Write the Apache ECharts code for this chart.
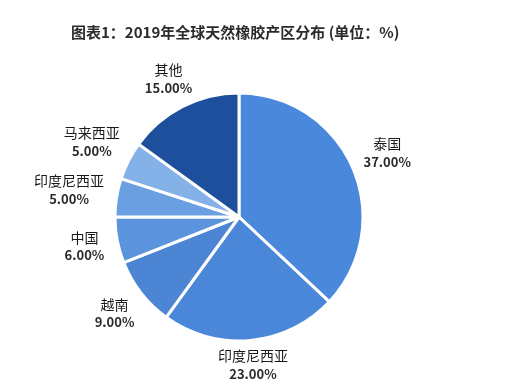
<!DOCTYPE html>
<html><head><meta charset="utf-8">
<script src="https://cdn.jsdelivr.net/npm/echarts@6/dist/echarts.min.js"></script>
<style>html,body{margin:0;padding:0;background:#fff}#c{width:524px;height:388px}</style>
</head><body><div id="c"></div>
<script>
var titleText = '图表1：2019年全球天然橡胶产区分布 (单位：%)';
var categories = ['泰国', '印度尼西亚', '越南', '中国', '印度尼西亚', '马来西亚', '其他'];
var values = [37, 23, 9, 6, 5, 5, 15];
var colors = ['#4a88dc', '#4b87d8', '#4c85d4', '#5b94dc', '#6aa0e2', '#84b1e8', '#1d4f9c'];

var CX = 239, CY = 217, R = 124, LABEL_R = 136;
var total = values.reduce(function (a, b) { return a + b; }, 0);
var mids = [];
(function () { var acc = 0; values.forEach(function (v) { mids.push((acc + v / 2) / total * 2 * Math.PI); acc += v; }); })();

var chart = echarts.init(document.getElementById('c'));
chart.setOption({
  backgroundColor: '#fff',
  animation: false,
  title: {
    text: titleText, left: 66, top: 20,
    textStyle: { fontFamily: '"Noto Sans CJK SC", sans-serif', fontSize: 15, fontWeight: 'bold', color: '#2b2b2b' }
  },
  series: [{
    type: 'pie',
    center: [CX, CY],
    radius: R,
    startAngle: 90,
    clockwise: true,
    data: categories.map(function (c, i) { return { name: c, value: values[i], itemStyle: { color: colors[i] } }; }),
    itemStyle: { borderColor: '#fff', borderWidth: 3 },
    label: {
      show: true, position: 'outside', overflow: 'none', bleedMargin: 0, edgeDistance: 0,
      formatter: function (p) { return '{n|' + p.name + '}\n{v|' + p.value.toFixed(2) + '%}'; },
      rich: {
        n: { fontFamily: '"Noto Sans CJK SC", sans-serif', fontSize: 14, color: '#1a1a1a', lineHeight: 18, align: 'center' },
        v: { fontFamily: '"Noto Sans CJK SC", sans-serif', fontSize: 13, fontWeight: 'bold', color: '#2a2a2a', lineHeight: 18, align: 'center' }
      }
    },
    labelLine: { show: false },
    labelLayout: function (p) {
      var a = mids[p.dataIndex];
      var dx = Math.sin(a), dy = -Math.cos(a);
      var w = p.labelRect.width, h = p.labelRect.height;
      var ext = Math.abs(dx) * w / 2 + Math.abs(dy) * h / 2 * 0.6;
      var d = LABEL_R + ext;
      return { x: CX + dx * d, y: CY + dy * d, align: 'center', verticalAlign: 'middle', hideOverlap: false, moveOverlap: false };
    },
    emphasis: { disabled: true }
  }]
});
</script></body></html>
